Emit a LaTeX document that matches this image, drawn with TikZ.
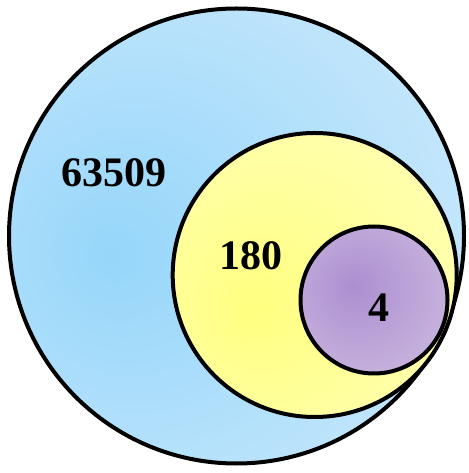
\documentclass[tikz,border=0pt]{standalone}
\usepackage{fontspec}
\setmainfont{Liberation Serif}
\usepackage{xcolor}
\usepackage{tikz}
\usetikzlibrary{positioning}

\definecolor{blueIn}{RGB}{150,214,250}
\definecolor{blueOut}{RGB}{206,234,252}
\definecolor{yellowIn}{RGB}{255,255,128}
\definecolor{yellowOut}{RGB}{255,255,200}
\definecolor{purpleIn}{RGB}{172,142,208}
\definecolor{purpleOut}{RGB}{216,202,230}

\pgfdeclareradialshading{blueset}{\pgfpoint{-14bp}{-2bp}}{color(0bp)=(blueIn); color(42bp)=(blueOut); color(80bp)=(blueOut)}
\pgfdeclareradialshading{yellowset}{\pgfpoint{-11bp}{-6bp}}{color(0bp)=(yellowIn); color(50bp)=(yellowOut); color(75bp)=(yellowOut)}
\pgfdeclareradialshading{purpleset}{\pgfpoint{-7bp}{5bp}}{color(0bp)=(purpleIn); color(50bp)=(purpleOut); color(70bp)=(purpleOut)}

\begin{document}
\begin{tikzpicture}[
  x=1pt,y=1pt,
  set/.style={draw,circle,line width=4pt,inner sep=0pt},
  count/.style={font=\fontsize{42}{42}\selectfont\bfseries}
]
\useasboundingbox (0,0) rectangle (468,473);
% Sets, nested
\node[set,minimum size=455pt,shading=blueset] (all) at (236.5,237) {};
\node[set,minimum size=284pt,shading=yellowset] (mid) at (314.7,198) {};
\node[set,minimum size=147pt,shading=purpleset] (core) at (374,173) {};
% Counts
\node[count] (nall) at (114,300) {63509};
\node[count] (nmid) at (251,217) {180};
\node[count] (ncore) at (379,165) {4};
\end{tikzpicture}
\end{document}
